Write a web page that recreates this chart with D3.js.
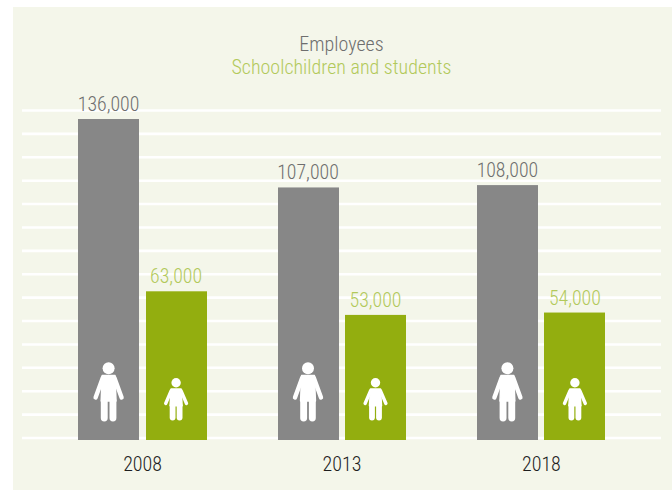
<!DOCTYPE html>
<html>
<head>
<meta charset="utf-8">
<script src="https://cdn.jsdelivr.net/npm/d3@7/dist/d3.min.js"></script>
<style>
html,body{margin:0;padding:0;background:#fff;}
svg{display:block;}
text{font-family:"Roboto Condensed","Liberation Sans Narrow",sans-serif;text-anchor:middle;opacity:.999;}
</style>
</head>
<body>
<svg id="chart" width="672" height="490"></svg>
<script>
const years = ["2008", "2013", "2018"];
const employees = [136000, 107000, 108000];
const students = [63000, 53000, 54000];
const legendLabels = ["Employees", "Schoolchildren and students"];
const gridRows = d3.range(15);

const colors = {
  panel: "#f4f6ea", grid: "#ffffff", grey: "#878787", green: "#93ae0f",
  greyText: "#6e6e6e", greenText: "#b2c95a", yearText: "#1e1e1e"
};

const svg = d3.select("#chart");
svg.append("rect").attr("x", 13).attr("y", 7).attr("width", 659).attr("height", 483).attr("fill", colors.panel);

const y = d3.scaleLinear().domain([0, 136000]).range([440, 119]);
const x = d3.scalePoint().domain(years).range([142.6, 541.4]);
const side = d3.scaleOrdinal().domain(["employees", "students"]).range([-34, 33.5]);
const rowY = d3.scalePoint().domain(gridRows).range([438, 110.5]);
const barWidth = 61;

svg.append("g").selectAll("line").data(gridRows).join("line")
  .attr("x1", 22).attr("x2", 661)
  .attr("y1", d => rowY(d)).attr("y2", d => rowY(d))
  .attr("stroke", colors.grid).attr("stroke-width", 2.6);

// Pictograms are drawn in local units, with the feet on y = 0 and x = 0 as the body axis.
function person(g, s) {
  const white = "#fff";
  g.append("circle").attr("cx", 0).attr("cy", s.headY).attr("r", s.headR).attr("fill", white);
  g.append("path").attr("fill", white).attr("stroke", white).attr("stroke-width", 1.5).attr("stroke-linejoin", "round")
    .attr("d", d3.line()([
      [-s.torso + 1, s.shoulderY], [s.torso - 1, s.shoulderY],
      [s.torso, s.crotchY], [-s.torso, s.crotchY]
    ]) + "Z");
  [-1, 1].forEach(k => {
    g.append("line")
      .attr("x1", k * (s.torso - s.armW / 2 + 0.6)).attr("y1", s.shoulderY + s.armW / 2)
      .attr("x2", k * s.handX).attr("y2", s.handY)
      .attr("stroke", white).attr("stroke-width", s.armW).attr("stroke-linecap", "round");
    g.append("line")
      .attr("x1", k * (s.torso + s.gap) / 2).attr("y1", s.crotchY)
      .attr("x2", k * (s.torso + s.gap) / 2).attr("y2", -(s.torso - s.gap) / 2)
      .attr("stroke", white).attr("stroke-width", s.torso - s.gap + 0.8).attr("stroke-linecap", "round");
  });
}
const adult = { headY: -52.7, headR: 6, shoulderY: -45.5, crotchY: -20, torso: 7.4, gap: 1.3, handX: 13, handY: -23.5, armW: 4.4 };
const child = { headY: -37.3, headR: 4.7, shoulderY: -31, crotchY: -14.3, torso: 6, gap: 1, handX: 10.4, handY: -16.5, armW: 3.4 };

function series(name, values, fill, labelFill, shape, footY) {
  const g = svg.append("g");
  g.selectAll("rect").data(values).join("rect")
    .attr("x", (d, i) => Math.round(x(years[i]) + side(name) - barWidth / 2))
    .attr("y", d => y(d))
    .attr("width", barWidth)
    .attr("height", d => y(0) - y(d))
    .attr("fill", fill);
  g.selectAll("text").data(values).join("text")
    .attr("x", (d, i) => x(years[i]) + side(name))
    .attr("y", d => y(d) - 8)
    .attr("fill", labelFill)
    .attr("font-size", 21)
    .attr("font-weight", 300)
    .attr("textLength", d => d < 100000 ? 52 : 61.5)
    .attr("lengthAdjust", "spacingAndGlyphs")
    .text(d => d3.format(",")(d));
  values.forEach((d, i) => {
    const p = g.append("g").attr("transform", `translate(${x(years[i]) + side(name)},${footY})`);
    person(p, shape);
  });
}
series("employees", employees, colors.grey, colors.greyText, adult, 421);
series("students", students, colors.green, colors.greenText, child, 420);

svg.append("g").selectAll("text").data(years).join("text")
  .attr("x", d => x(d)).attr("y", 471)
  .attr("font-size", 20).attr("font-weight", 300).attr("fill", colors.yearText)
  .text(d => d);

svg.append("text").attr("x", 341.5).attr("y", 51).attr("font-size", 20).attr("font-weight", 300).attr("fill", colors.greyText).text(legendLabels[0]);
svg.append("text").attr("x", 341.5).attr("y", 74).attr("font-size", 20).attr("font-weight", 300).attr("fill", colors.greenText).text(legendLabels[1]);
</script>
</body>
</html>
